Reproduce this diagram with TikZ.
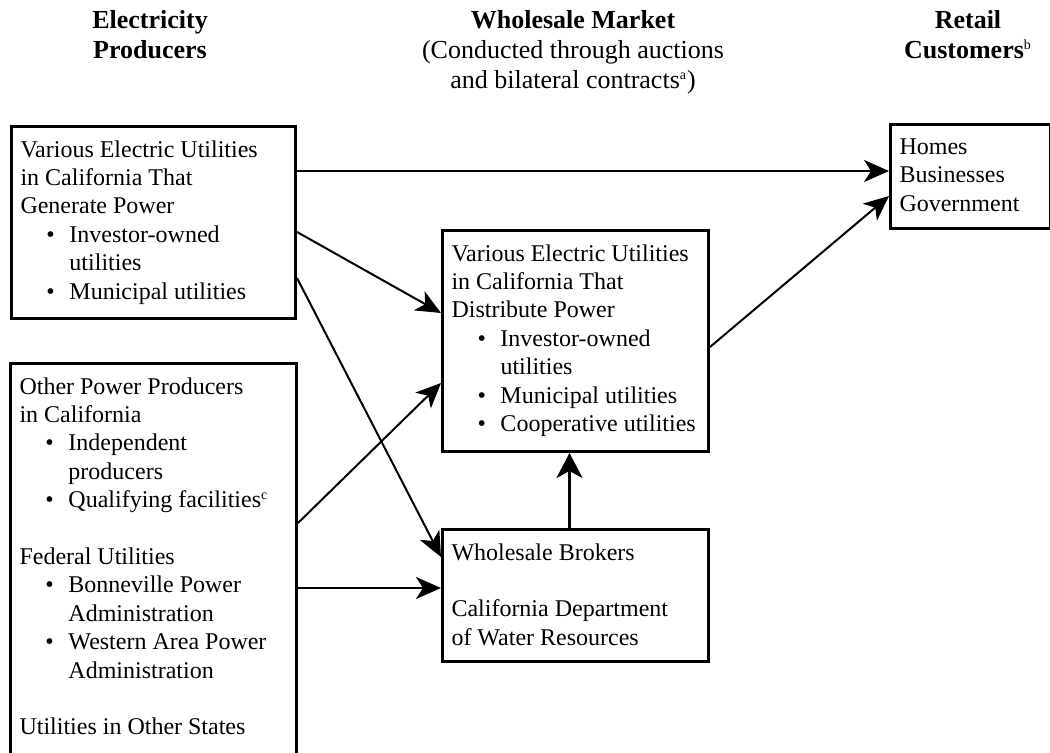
\documentclass[tikz,border=0pt]{standalone}
\usepackage{fontspec}
\setmainfont{Liberation Serif}
\usepackage{tikz}
\usetikzlibrary{calc,arrows.meta}

\newcommand{\bul}{\hspace*{13pt}\makebox[11.5pt][l]{\textbullet}}
\newcommand{\ind}{\hspace*{24.5pt}}
\newcommand{\boxtext}[3]{\parbox[c][#2][t]{#1}{\raggedright #3}}
\newcommand{\fnmark}[1]{\textsuperscript{\fontsize{7}{7}\selectfont #1}}

\begin{document}
\begin{tikzpicture}[x=0.5pt,y=-0.5pt]
        \tikzstyle{every node}=[font=\fontsize{12}{14.2}\selectfont]
        \tikzstyle{agent}=[draw,line width=1.5pt,inner xsep=4.5pt,inner ysep=7pt,anchor=north west]
        \tikzstyle{flow}=[line width=1pt,-{Stealth[length=12.5pt,width=11pt,inset=3.5pt]}]
        \tikzstyle{header}=[align=center,anchor=north,inner sep=0pt,font=\fontsize{13}{15}\selectfont]

        \useasboundingbox (0,0) rectangle (1050,753);

        %% Column headers
        \node[header] (hdprod) at (150,10) {\textbf{Electricity}\\\textbf{Producers}};
        \node[header] (hdmarket) at (573,10)
            {\textbf{Wholesale Market}\\(Conducted through auctions\\and bilateral contracts\fnmark{a})};
        \node[header] (hdretail) at (968,10) {\textbf{Retail}\\\textbf{Customers}\fnmark{b}};

        %% Producers
        \node[agent] (genpower) at (10,125) {\boxtext{133pt}{82pt}{%
            Various Electric Utilities\\ in California That\\ Generate Power\\
            \bul Investor-owned\\ \ind utilities\\ \bul Municipal utilities}};
        \node[agent] (others) at (9,362) {\boxtext{134pt}{187.5pt}{%
            Other Power Producers\\ in California\\
            \bul Independent\\ \ind producers\\ \bul Qualifying facilities\fnmark{c}\\[14.2pt]
            Federal Utilities\\ \bul Bonneville Power\\ \ind Administration\\
            \bul Western Area Power\\ \ind Administration\\[14.2pt]
            Utilities in Other States}};

        %% Wholesale market
        \node[agent] (distrib) at (441,229) {\boxtext{124pt}{96.5pt}{%
            Various Electric Utilities\\ in California That\\ Distribute Power\\
            \bul Investor-owned\\ \ind utilities\\ \bul Municipal utilities\\ \bul Cooperative utilities}};
        \node[agent] (brokers) at (441,528) {\boxtext{124pt}{52pt}{%
            Wholesale Brokers\\[14.2pt] California Department\\ of Water Resources}};

        %% Retail customers
        \node[agent] (retail) at (889,123) {\boxtext{71pt}{38pt}{Homes\\ Businesses\\ Government}};

        % Edges
        \coordinate (g1) at ($(genpower.north east)+(0,46)$);
        \coordinate (o2) at ($(others.north east)+(0,226)$);
        \coordinate (b1) at ($(brokers.north)+(-6,0)$);
        \draw[flow] (g1) -- (g1 -| retail.west);
        \draw[flow] ($(genpower.north east)+(0,107)$) -- ($(distrib.north west)+(0,84)$);
        \draw[flow] ($(genpower.north east)+(0,153)$) -- ($(brokers.north west)+(0,29)$);
        \draw[flow] ($(others.north east)+(0,161)$) -- ($(distrib.north west)+(0,154)$);
        \draw[flow] (o2) -- (o2 -| brokers.west);
        \draw[flow,line width=1.5pt,-{Stealth[length=12.5pt,width=13pt,inset=3.5pt]}] (b1) -- (b1 |- distrib.south);
        \draw[flow] ($(distrib.north east)+(0,118)$) -- ($(retail.north west)+(0,73)$);
\end{tikzpicture}
\end{document}
